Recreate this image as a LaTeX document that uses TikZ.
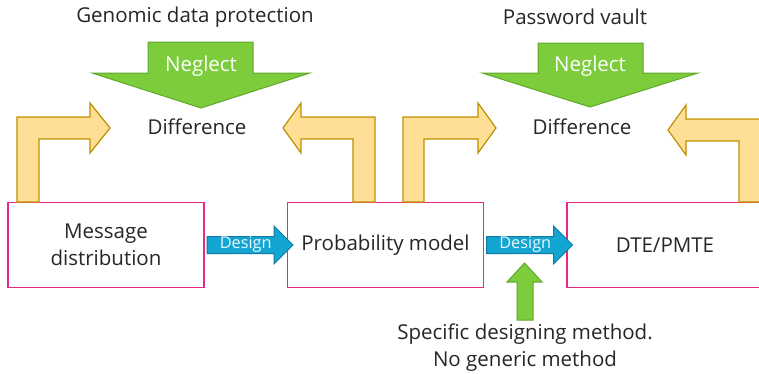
\documentclass[tikz,border=0pt]{standalone}
\usepackage{fontspec}
\setmainfont{Open Sans}
\usetikzlibrary{shapes.arrows,positioning,calc}
\definecolor{boxpink}{RGB}{232,40,135}
\definecolor{turnfill}{RGB}{255,222,150}
\definecolor{turnline}{RGB}{191,144,0}
\definecolor{neglectfill}{RGB}{124,204,60}
\definecolor{neglectline}{RGB}{96,168,44}
\definecolor{designfill}{RGB}{20,166,210}
\definecolor{designline}{RGB}{16,124,164}
\tikzset{
  x=1pt, y=-1pt,
  txt/.style={font=\fontsize{20.5}{27}\selectfont, align=center, text=black!85},
  box/.style={draw=boxpink, line width=1.8pt, minimum width=196pt,
    minimum height=85pt, inner sep=0pt, txt},
  turnarrow/.style={draw=turnline, fill=turnfill, line width=1.2pt},
  neglectarrow/.style={draw=neglectline, fill=neglectfill, line width=1pt},
  designarrow/.style={single arrow, draw=designline, fill=designfill,
    line width=1pt, minimum height=86pt, single arrow head extend=10.5pt,
    inner xsep=1pt, inner ysep=1.5pt, text height=10pt, text depth=3pt,
    text=white!92!cyan, font=\fontsize{16.3}{16}\selectfont}
}
\begin{document}
\begin{tikzpicture}
      \useasboundingbox (0,0) rectangle (759,373);

      % boxes
      \node[box] (msg) at (106,245) {Message\\distribution};
      \node[box] (prob) at (385.5,245) {Probability model};
      \node[box] (dte) at (665,245) {DTE/PMTE};

      % top texts
      \node[txt] (gen) at (195,17) {Genomic data protection};
      \node[txt] (vault) at (575,17) {Password vault};
      \node[txt] (diff1) at (197,127) {Difference};
      \node[txt] (diff2) at (582,127) {Difference};

      % turning arrows
      \draw[turnarrow] (17,202) -- (17,117) -- (90,117) -- (90,103) -- (110,128)
        -- (90,153) -- (90,139) -- (39,139) -- (39,202) -- cycle;
      \draw[turnarrow] (375,202) -- (375,117) -- (301,117) -- (301,103) -- (283,128)
        -- (301,153) -- (301,139) -- (353,139) -- (353,202) -- cycle;
      \draw[turnarrow] (403,202) -- (403,117) -- (478,117) -- (478,103) -- (496,128)
        -- (478,153) -- (478,139) -- (424,139) -- (424,202) -- cycle;
      \draw[turnarrow] (762,202) -- (762,119) -- (686,119) -- (686,105) -- (668,130)
        -- (686,155) -- (686,141) -- (739,141) -- (739,202) -- cycle;

      % neglect arrows
      \draw[neglectarrow] (148,42) -- (253,42) -- (253,73) -- (310,73) -- (201,108)
        -- (92,73) -- (148,73) -- cycle;
      \node[txt, text=white] (neg1) at (201,66) {Neglect};
      \draw[neglectarrow] (538,43) -- (643,43) -- (643,73) -- (698,73) -- (590,107)
        -- (482,73) -- (538,73) -- cycle;
      \node[txt, text=white] (neg2) at (590,66) {Neglect};

      % design arrows
      \node[designarrow] (des1) at ($(msg.east)!0.5!(prob.west)$) {Design};
      \node[designarrow] (des2) at ($(prob.east)!0.5!(dte.west)$) {Design};

      % method
      \node[txt] (meth) at (525,348) {Specific designing method.\\No generic method};
      \draw[neglectarrow] (517,320) -- (517,282) -- (507,282) -- (524.5,263)
        -- (542,282) -- (533,282) -- (533,320) -- cycle;
\end{tikzpicture}
\end{document}
